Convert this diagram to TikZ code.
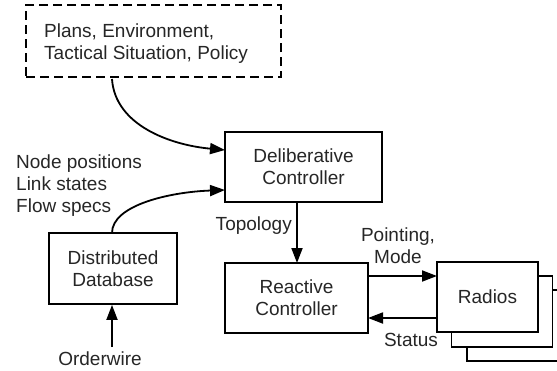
\documentclass[tikz,border=0pt]{standalone}
\usepackage{fontspec}
\setmainfont{Liberation Sans}
\usetikzlibrary{arrows.meta}
\begin{document}
\begin{tikzpicture}[x=1pt,y=-1pt,
  every node/.style={font=\fontsize{19}{22}\selectfont, text=black!85},
  box/.style={draw=black, line width=1.8pt, fill=white, inner sep=0pt, align=center},
  lbl/.style={inner sep=0pt, align=center},
  conn/.style={line width=1.8pt, -{Triangle[length=15pt,width=11pt]}}]
\useasboundingbox (0,0) rectangle (557,370);
% dashed box
\node[box, dashed, dash pattern=on 9pt off 5pt, minimum width=255pt, minimum height=72pt] (plans) at (153.5,41) {};
\node[lbl, align=left, anchor=west] (planstext) at (44,44) {Plans, Environment,\\Tactical Situation, Policy};
% deliberative
\node[box, minimum width=157pt, minimum height=70pt, text depth=-3pt] (delib) at (303.5,167) {Deliberative\\Controller};
% reactive
\node[box, minimum width=143pt, minimum height=70pt, text depth=-3pt] (react) at (296.5,298) {Reactive\\Controller};
% database
\node[box, minimum width=128pt, minimum height=71pt, text depth=-3pt] (db) at (113,268.5) {Distributed\\Database};
% radios stack
\node[box, minimum width=101pt, minimum height=71pt] (r3) at (517.5,325.5) {};
\node[box, minimum width=101pt, minimum height=71pt] (r2) at (502,311.5) {};
\node[box, minimum width=101pt, minimum height=70pt] (r1) at (487.5,297) {Radios};
% labels
\node[lbl, align=left, anchor=north west] (info) at (16,155) {Node positions\\Link states\\Flow specs};
\node[lbl, anchor=east] (topo) at (292,226) {Topology};
\node[lbl] (point) at (398,246) {Pointing,\\Mode};
\node[lbl] (status) at (411,340) {Status};
\node[lbl] (order) at (100,359) {Orderwire};
% coordinates
\coordinate (pa) at (112,79);
\coordinate (pb) at (225,150);
\coordinate (da) at (112,233);
\coordinate (dc) at (225,190);
\coordinate (ow) at (112,347);
% connectors
\draw[conn] (pa) .. controls (115,125) and (170,145) .. (pb);
\draw[conn] (da) .. controls (112,205) and (170,192) .. (dc);
\draw[conn] (297,202) -- (297,263);
\draw[conn] (368,276) -- (437,276);
\draw[conn] (437,318) -- (368,318);
\draw[conn] (ow) -- (db.south -| ow);
\end{tikzpicture}
\end{document}
